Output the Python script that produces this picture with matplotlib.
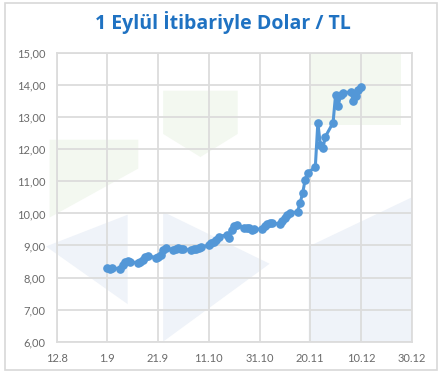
import numpy as np
import pandas as pd
import matplotlib
matplotlib.use('Agg')
import matplotlib.pyplot as plt
from matplotlib.patches import Polygon, Rectangle
from matplotlib.ticker import FuncFormatter

# --- Datos: USD/TRY desde el 1 de septiembre ---
fechas = [
    '2021-09-01', '2021-09-02', '2021-09-03', '2021-09-06', '2021-09-07',
    '2021-09-08', '2021-09-09', '2021-09-10', '2021-09-13', '2021-09-14',
    '2021-09-15', '2021-09-16', '2021-09-17', '2021-09-20', '2021-09-21',
    '2021-09-22', '2021-09-23', '2021-09-24', '2021-09-27', '2021-09-28',
    '2021-09-29', '2021-09-30', '2021-10-01', '2021-10-04', '2021-10-05',
    '2021-10-06', '2021-10-07', '2021-10-08', '2021-10-11', '2021-10-12',
    '2021-10-13', '2021-10-14', '2021-10-15', '2021-10-18', '2021-10-19',
    '2021-10-20', '2021-10-21', '2021-10-22', '2021-10-25', '2021-10-26',
    '2021-10-27', '2021-10-28', '2021-10-29', '2021-11-01', '2021-11-02',
    '2021-11-03', '2021-11-04', '2021-11-05', '2021-11-08', '2021-11-09',
    '2021-11-10', '2021-11-11', '2021-11-12', '2021-11-15', '2021-11-16',
    '2021-11-17', '2021-11-18', '2021-11-19', '2021-11-22', '2021-11-23',
    '2021-11-24', '2021-11-25', '2021-11-26', '2021-11-29', '2021-11-30',
    '2021-12-01', '2021-12-02', '2021-12-03', '2021-12-06', '2021-12-07',
    '2021-12-08', '2021-12-09', '2021-12-10',
]
kur = [
    8.29, 8.28, 8.30, 8.27, 8.40,
    8.47, 8.52, 8.50, 8.45, 8.50,
    8.55, 8.63, 8.68, 8.62, 8.64,
    8.70, 8.86, 8.91, 8.86, 8.90,
    8.93, 8.90, 8.88, 8.86, 8.88,
    8.90, 8.93, 8.96, 9.00, 9.07,
    9.12, 9.17, 9.28, 9.33, 9.23,
    9.48, 9.62, 9.63, 9.56, 9.54,
    9.54, 9.49, 9.50, 9.52, 9.60,
    9.66, 9.71, 9.70, 9.67, 9.75,
    9.85, 9.95, 10.00, 10.06, 10.32,
    10.63, 11.05, 11.27, 11.44, 12.83,
    12.14, 12.04, 12.40, 12.83, 13.70,
    13.35, 13.70, 13.75, 13.80, 13.52,
    13.65, 13.85, 13.94,
]

x_ticks = ['2021-08-12', '2021-09-01', '2021-09-21', '2021-10-11',
           '2021-10-31', '2021-11-20', '2021-12-10', '2021-12-30']
x_labels = ['12.8', '1.9', '21.9', '11.10', '31.10', '20.11', '10.12', '30.12']
y_ticks = [6, 7, 8, 9, 10, 11, 12, 13, 14, 15]

fechas = pd.to_datetime(fechas)
x_ticks = pd.to_datetime(x_ticks)

azul_linea = '#5397d7'
gris_grid = '#dcdcdc'
gris_texto = '#6a6a6a'

fig = plt.figure(figsize=(4.46, 3.80), dpi=100)
fig.patch.set_facecolor('white')

ax = fig.add_axes([0.127, 0.101, 0.796, 0.759])
ax.set_facecolor('none')

# marca de agua tenue (logo de fondo)
verde = '#f3f8f0'
azul = '#eff3f9'
formas = [
    ([(-0.02, 0.70), (0.23, 0.70), (0.23, 0.60), (-0.02, 0.43)], verde),
    ([(0.30, 0.87), (0.51, 0.87), (0.51, 0.72), (0.405, 0.64), (0.30, 0.72)], verde),
    ([(0.71, 1.0), (0.97, 1.0), (0.97, 0.75), (0.71, 0.75)], verde),
    ([(-0.03, 0.33), (0.20, 0.44), (0.20, 0.13)], azul),
    ([(0.30, 0.45), (0.60, 0.27), (0.30, 0.0)], azul),
    ([(0.71, 0.0), (1.0, 0.0), (1.0, 0.50), (0.71, 0.33)], azul),
]
for pts, col in formas:
    ax.add_patch(Polygon(pts, closed=True, transform=ax.transAxes,
                         facecolor=col, edgecolor='none', zorder=0,
                         clip_on=False))

ax.plot(fechas, kur, color=azul_linea, linewidth=2.2, marker='o',
        markersize=5.2, zorder=3)

ax.set_xlim(x_ticks[0], x_ticks[-1])
ax.set_ylim(6, 15)
ax.set_xticks(x_ticks)
ax.set_xticklabels(x_labels)
ax.set_yticks(y_ticks)
ax.yaxis.set_major_formatter(FuncFormatter(lambda v, p: f'{v:.2f}'.replace('.', ',')))

ax.grid(True, color=gris_grid, linewidth=1.3, zorder=1)
ax.set_axisbelow(True)
for s in ax.spines.values():
    s.set_color(gris_grid)
    s.set_linewidth(1.3)
ax.tick_params(length=0, labelsize=8, labelcolor=gris_texto, pad=8)
for lab in ax.get_xticklabels() + ax.get_yticklabels():
    lab.set_fontfamily('Lato')

fig.text(0.5, 0.942, '1 Eylül İtibariyle Dolar / TL', ha='center', va='center',
         fontsize=14, fontweight='bold', color='#1f72c2', family='Open Sans')

# marco de la tarjeta
fig.patches.append(Rectangle((0.012, 0.026), 0.968, 0.966,
                             transform=fig.transFigure, facecolor='none',
                             edgecolor='#d8d8d8', linewidth=1.2, zorder=5))

plt.savefig('out.png', dpi=100)
plt.close()
